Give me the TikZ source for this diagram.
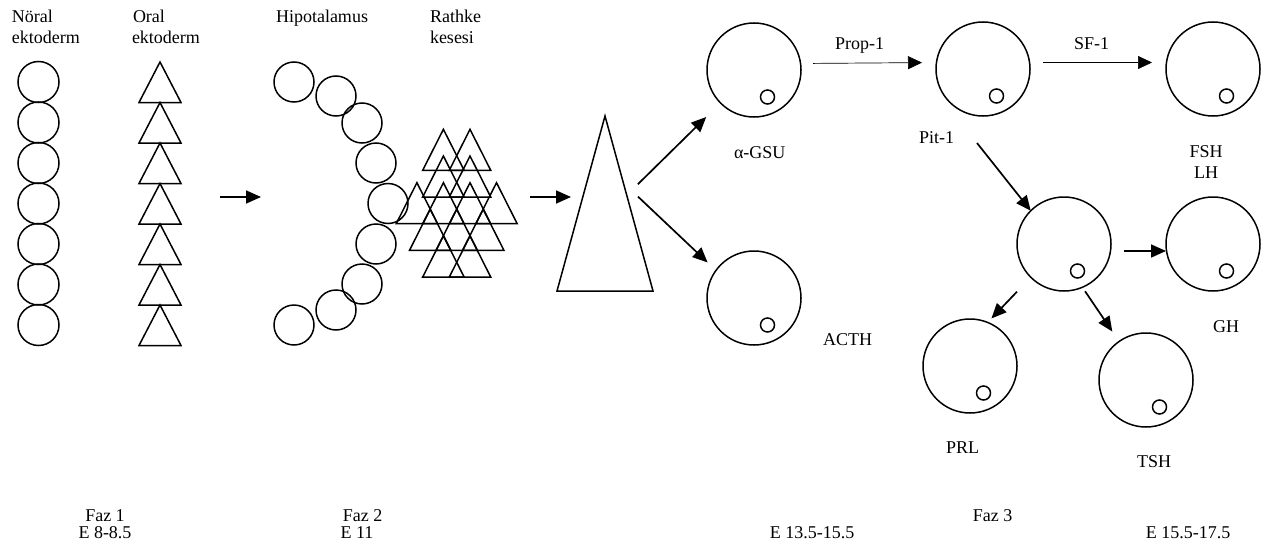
\documentclass[tikz,border=0pt]{standalone}
\usepackage{fontspec}
\setmainfont{Liberation Serif}
\usetikzlibrary{arrows.meta}
\begin{document}
\begin{tikzpicture}[x=1pt,y=-1pt,
  outline/.style={draw=black,line width=1.5pt},
  cell/.style={circle,draw=black,line width=1.5pt,minimum size=94pt,inner sep=0pt,outer sep=0pt},
  nucleus/.style={draw=black,line width=1.5pt},
  arr/.style={line width=1.7pt,-{Triangle[length=15pt,width=13pt]}},
  thinarr/.style={line width=0.7pt,-{Triangle[length=14pt,width=13pt]}},
  txt/.style={inner sep=0pt,outer sep=0pt,font=\fontsize{18}{20.5}\selectfont},
  lbl/.style={txt,anchor=base west},
  clbl/.style={txt,anchor=base}]
\useasboundingbox (0,0) rectangle (1265,551);

% --- Faz 1: neural ectoderm (circles) and oral ectoderm (triangles)
\node[lbl] (nor1) at (12,23) {Nöral};
\node[lbl] (nor2) at (12,43.5) {ektoderm};
\node[lbl] (ora1) at (133,23) {Oral};
\node[lbl] (ora2) at (132,43.5) {ektoderm};
\foreach \k in {0,...,6}{
  \draw[outline] (38.5,{82+40.5*\k}) circle (20.5pt);
  \draw[outline] (160,{62+40.5*\k}) -- ++(21,40.5) -- ++(-42,0) -- cycle;
}

% --- Faz 2: hypothalamus and Rathke's pouch
\node[lbl] (hip) at (276,23) {Hipotalamus};
\node[lbl] (rat1) at (430,23) {Rathke};
\node[lbl] (rat2) at (430,43.5) {kesesi};
\foreach \cx/\cy in {294/82,336/96,362/123,376/163,388/203.5,376/244,362/284,336/310,294/325}{
  \draw[outline] (\cx,\cy) circle (20pt);
}
\foreach \ax/\ay in {443.4/129.3,470/129.3,
                     443.4/156,470/156,
                     416.9/182.7,443.4/182.7,470/182.7,496.5/182.7,
                     430.2/209.3,456.7/209.3,483.2/209.3,
                     443.4/236,470/236}{
  \draw[outline] (\ax,\ay) -- ++(20.7,41) -- ++(-41.4,0) -- cycle;
}

% phase transitions
\coordinate (a1s) at (220,197);
\coordinate (a1e) at (261,197);
\draw[arr] (a1s) -- (a1e);
\coordinate (a2s) at (530,197);
\coordinate (a2e) at (571,197);
\draw[arr] (a2s) -- (a2e);

% --- Faz 3: anterior pituitary and differentiated cell lineages
\draw[outline] (605,116) -- (653,291) -- (557,291) -- cycle;
\coordinate (fork) at (631.5,190.5);

\node[cell] (gsu)  at (754,70)   {};
\node[cell] (acth) at (754,298)  {};
\node[cell] (pit)  at (983,69)   {};
\node[cell] (fsh)  at (1213,69)  {};
\node[cell] (mid)  at (1064,244) {};
\node[cell] (gh)   at (1213,244) {};
\node[cell] (prl)  at (970,366)  {};
\node[cell] (tsh)  at (1146,380) {};
\foreach \c in {gsu,acth,pit,fsh,mid,gh,prl,tsh}{
  \draw[nucleus] ([shift={(13.5pt,-27pt)}]\c.center) circle (7pt);
}

\draw[arr,shorten <=9pt,shorten >=20pt] (fork) -- (gsu);
\draw[arr,shorten <=9pt,shorten >=11.5pt] (fork) -- (acth.144);
\draw[thinarr,shorten <=12pt,shorten >=14pt] ([yshift=6.5pt]gsu.east) -- ([yshift=6.5pt]pit.west);
\draw[thinarr,shorten <=13pt,shorten >=14pt] ([yshift=6.5pt]pit.east) -- ([yshift=6.5pt]fsh.west);
\draw[arr] ([xshift=-6pt,yshift=-27pt]pit.south) -- (mid.135);
\draw[arr,shorten <=13pt] ([yshift=-7pt]mid.east) -- ([yshift=-7pt]gh.west);
\draw[arr,shorten <=20pt,shorten >=5.5pt] (mid.225) -- (prl.68);
\draw[arr,shorten <=4.8pt,shorten >=12pt] (mid.293) -- (tsh.125);

\node[lbl] (lprop) at (835,49) {Prop-1};
\node[lbl] (lsf)   at (1074,49) {SF-1};
\node[lbl] (lgsu)  at (734,158) {α-GSU};
\node[lbl] (lpit)  at (919,143) {Pit-1};
\node[clbl] (lfsh) at (1206,157) {FSH};
\node[clbl] (llh)  at (1206,178) {LH};
\node[lbl] (lacth) at (823,345) {ACTH};
\node[lbl] (lgh)   at (1213,332) {GH};
\node[lbl] (lprl)  at (946,453) {PRL};
\node[lbl] (ltsh)  at (1137,467) {TSH};

% stage captions
\node[clbl] (faz1) at (105,521) {Faz 1};
\node[clbl] (e1)   at (105,538) {E 8-8.5};
\node[clbl] (faz2) at (362.5,521) {Faz 2};
\node[clbl] (e2)   at (357,538) {E 11};
\node[clbl] (faz3) at (992.5,521) {Faz 3};
\node[clbl] (e3)   at (812,538) {E 13.5-15.5};
\node[clbl] (e4)   at (1188,538) {E 15.5-17.5};
\end{tikzpicture}
\end{document}
